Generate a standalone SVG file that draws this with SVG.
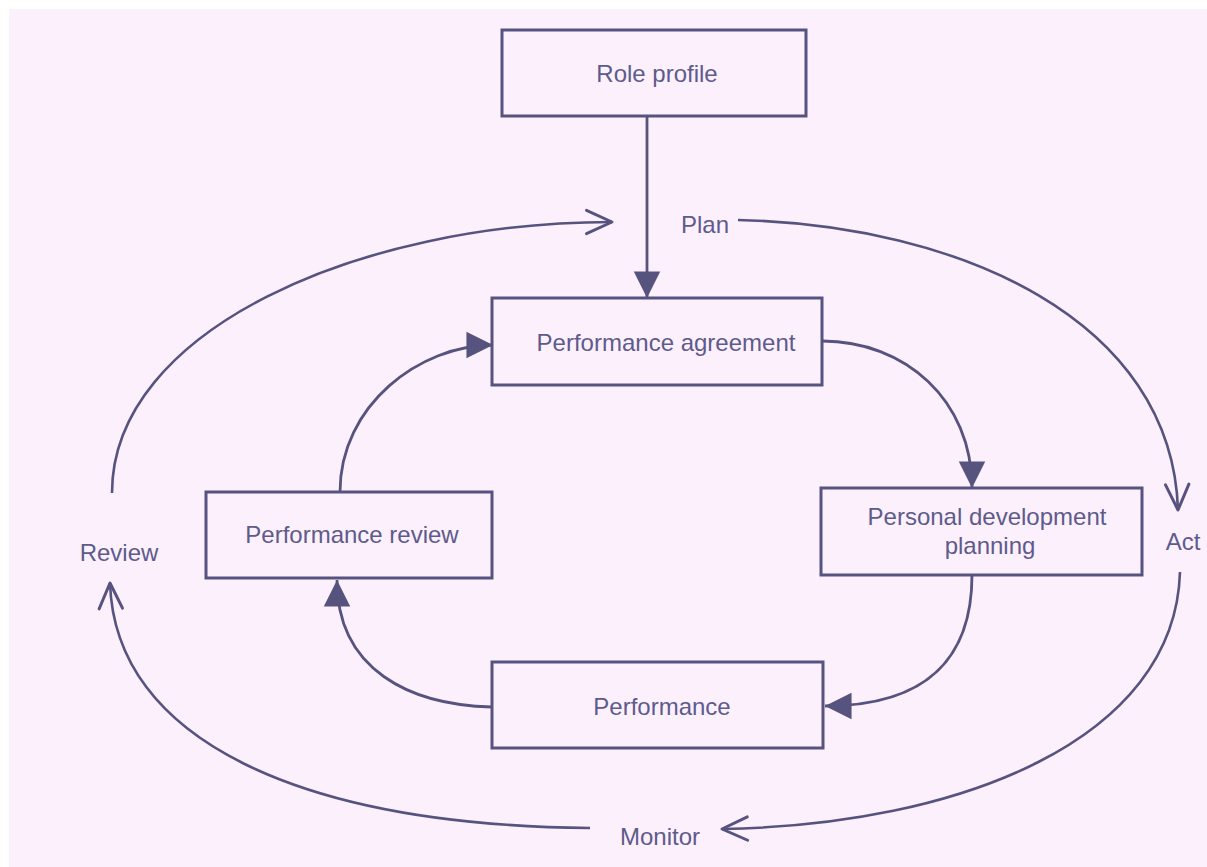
<svg xmlns="http://www.w3.org/2000/svg" width="1207" height="867" viewBox="0 0 1207 867">
  <style>
    .box { fill: none; stroke: #57537f; stroke-width: 3; }
    .lbl { font-family: "Liberation Sans", Arial, sans-serif; font-size: 24px; fill: #5d5b8b; text-anchor: middle; }
    .inner { fill: none; stroke: #57537f; stroke-width: 2.8; }
    .outer { fill: none; stroke: #57537f; stroke-width: 2.6; }
  </style>
  <defs>
    <marker id="solid" markerUnits="userSpaceOnUse" markerWidth="30" markerHeight="30" viewBox="-24 -13 26 26" refX="0" refY="0" orient="auto">
      <path d="M-23,-11.5 L0,0 L-23,11.5 Z" fill="#57537f"/>
    </marker>
    <marker id="open" markerUnits="userSpaceOnUse" markerWidth="34" markerHeight="34" viewBox="-28 -15 32 30" refX="0" refY="0" orient="auto">
      <path d="M-24,-11 L0,0 L-24,11" fill="none" stroke="#57537f" stroke-width="2.8" stroke-linecap="round" stroke-linejoin="round"/>
    </marker>
  </defs>

  <!-- paper -->
  <rect x="0" y="0" width="1207" height="867" fill="#ffffff"/>
  <rect x="9" y="9" width="1198" height="858" fill="#fdf0fd"/>

  <g id="role-profile">
    <rect class="box" x="502" y="30" width="304" height="86"/>
    <text class="lbl" x="657" y="82">Role profile</text>
  </g>

  <g id="performance-agreement">
    <rect class="box" x="492" y="298" width="330" height="87"/>
    <text class="lbl" x="666" y="351">Performance agreement</text>
  </g>

  <g id="personal-development-planning">
    <rect class="box" x="821" y="488" width="321" height="87"/>
    <text class="lbl" x="987" y="525">Personal development</text>
    <text class="lbl" x="990" y="554">planning</text>
  </g>

  <g id="performance">
    <rect class="box" x="492" y="662" width="331" height="86"/>
    <text class="lbl" x="662" y="715">Performance</text>
  </g>

  <g id="performance-review">
    <rect class="box" x="206" y="492" width="286" height="86"/>
    <text class="lbl" x="352" y="543">Performance review</text>
  </g>

  <g id="cycle-labels">
    <text class="lbl" x="705" y="233">Plan</text>
    <text class="lbl" x="1183" y="550" font-size="21">Act</text>
    <text class="lbl" x="660" y="845">Monitor</text>
    <text class="lbl" x="119" y="561">Review</text>
  </g>

  <g id="connectors">
    <!-- inner loop -->
    <path class="inner" d="M647,116 V298" marker-end="url(#solid)"/>
    <path class="inner" d="M822,341 C905,341 972,400 972,488" marker-end="url(#solid)"/>
    <path class="inner" d="M972,575 C972,655 930,706 825,706" marker-end="url(#solid)"/>
    <path class="inner" d="M492,707 C410,705 337,670 337,580" marker-end="url(#solid)"/>
    <path class="inner" d="M340,492 C340,405 420,345 493,345" marker-end="url(#solid)"/>
    <!-- outer loop -->
    <path class="outer" d="M738,220 C960,225 1172,320 1178,510" marker-end="url(#open)"/>
    <path class="outer" d="M1180,572 C1175,740 960,825 722,829" marker-end="url(#open)"/>
    <path class="outer" d="M590,828 C300,825 115,740 110,583" marker-end="url(#open)"/>
    <path class="outer" d="M112,493 C112,330 360,222 612,222" marker-end="url(#open)"/>
  </g>
</svg>
